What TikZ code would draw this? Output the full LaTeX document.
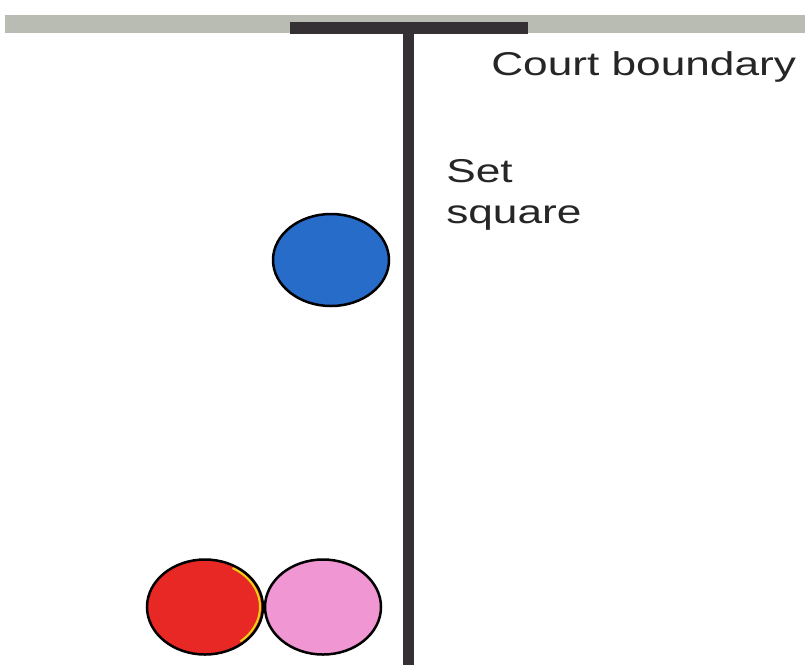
\documentclass[tikz,border=0pt]{standalone}
\usepackage{fontspec}
\setmainfont{Liberation Sans}
\usetikzlibrary{shapes.geometric}
\definecolor{band}{RGB}{184,188,178}
\definecolor{post}{RGB}{52,48,52}
\definecolor{ballblue}{RGB}{38,108,200}
\definecolor{ballred}{RGB}{232,40,36}
\definecolor{ballpink}{RGB}{240,150,210}
\definecolor{rimyellow}{RGB}{235,210,20}
\begin{document}
\begin{tikzpicture}[x=1pt,y=-1pt,
  lbl/.style={font=\fontsize{33}{40}\selectfont, text=black!85, inner sep=0pt, anchor=base west, align=left, xscale=1.34, transform shape},
  ball/.style={draw=black, line width=2.5pt, ellipse, inner sep=0pt, minimum width=116pt}]
\useasboundingbox (0,0) rectangle (805,665);
\fill[white] (0,0) rectangle (805,665);
\fill[band] (5,15) rectangle (805,33);
\fill[post] (290,22) rectangle (528,34);
\coordinate (top) at (408,30);
\coordinate (bottom) at (408,665);
\draw[post, line width=11pt] (top) -- (bottom);
\node[lbl] (court) at (491,75) {Court boundary};
\node[lbl] (setsq) at (446,182) {Set};
\node[lbl] (setsq2) at (446,223) {square};
\node[ball, fill=ballblue, minimum height=92pt] (blue) at (331,260) {};
\node[ball, fill=ballred, minimum height=95pt] (red) at (205,607) {};
\node[ball, fill=ballpink, minimum height=95pt] (pink) at (323,607) {};
\draw[rimyellow, line width=2pt] (232.5,568) arc[start angle=-60, end angle=50, x radius=55, y radius=45];
\end{tikzpicture}
\end{document}
